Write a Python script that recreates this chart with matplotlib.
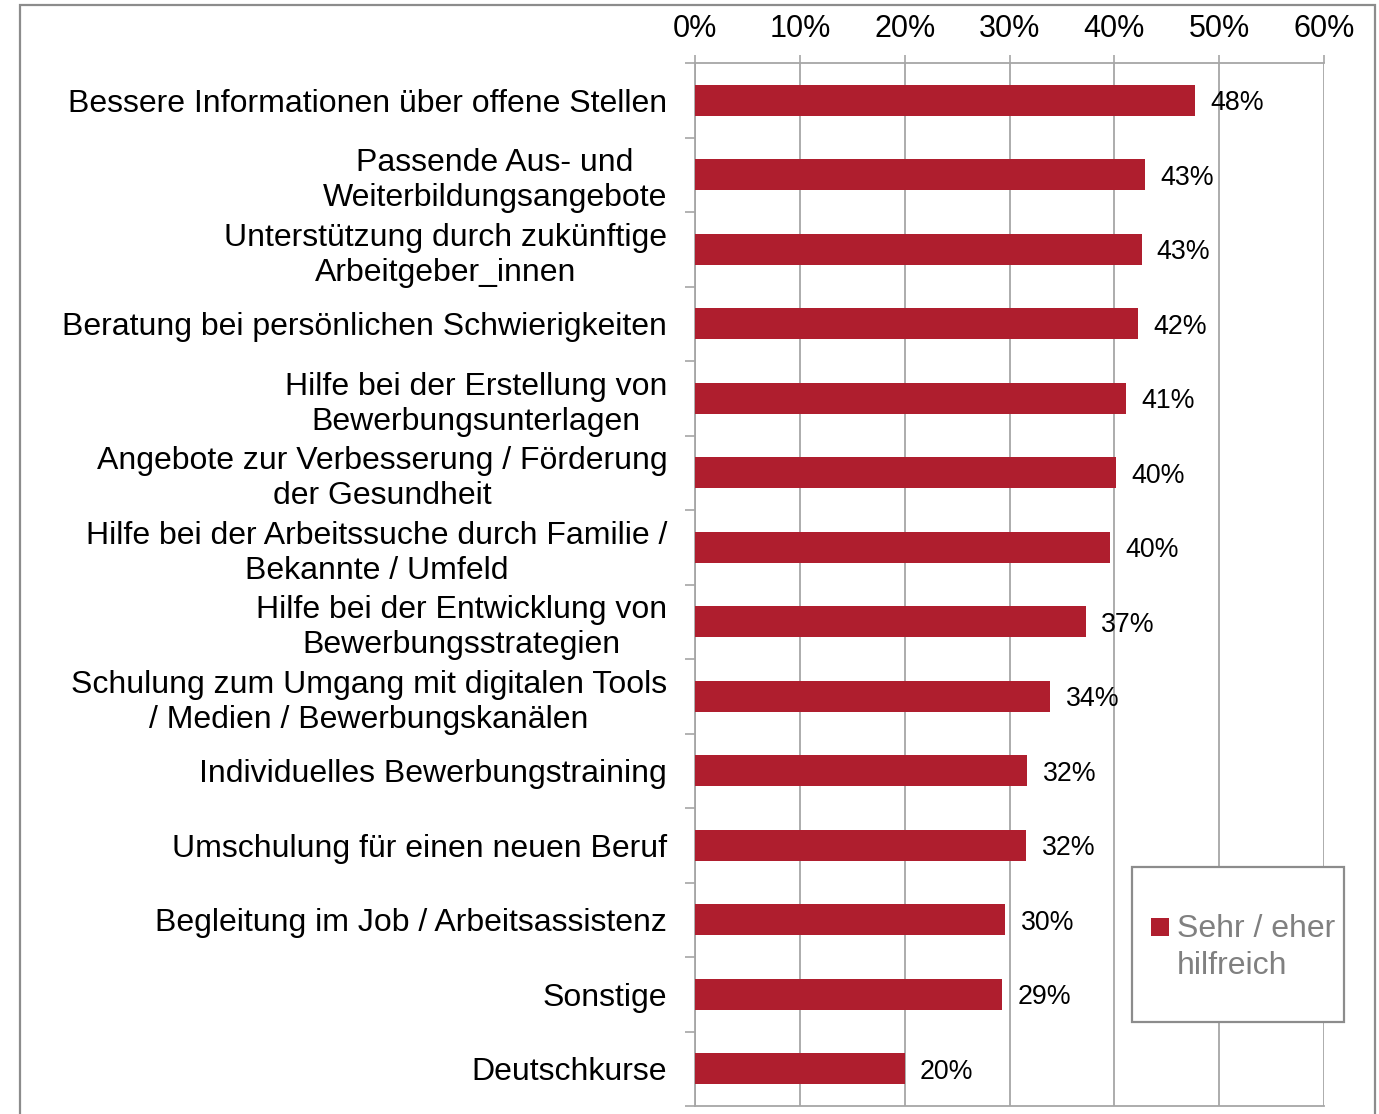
import matplotlib
matplotlib.use("Agg")
import matplotlib.pyplot as plt
from matplotlib.patches import Rectangle, Patch
from matplotlib.legend_handler import HandlerPatch
from matplotlib.ticker import FixedLocator, PercentFormatter

plt.rcParams['font.family'] = ['Liberation Sans', 'DejaVu Sans']

categories = [
    "Bessere Informationen über offene Stellen",
    "Passende Aus- und\nWeiterbildungsangebote",
    "Unterstützung durch zukünftige\nArbeitgeber_innen",
    "Beratung bei persönlichen Schwierigkeiten",
    "Hilfe bei der Erstellung von\nBewerbungsunterlagen",
    "Angebote zur Verbesserung / Förderung\nder Gesundheit",
    "Hilfe bei der Arbeitssuche durch Familie /\nBekannte / Umfeld",
    "Hilfe bei der Entwicklung von\nBewerbungsstrategien",
    "Schulung zum Umgang mit digitalen Tools\n/ Medien / Bewerbungskanälen",
    "Individuelles Bewerbungstraining",
    "Umschulung für einen neuen Beruf",
    "Begleitung im Job / Arbeitsassistenz",
    "Sonstige",
    "Deutschkurse",
]
values = [47.7, 42.9, 42.6, 42.3, 41.1, 40.2, 39.6, 37.3, 33.9, 31.7, 31.6, 29.6, 29.3, 20.0]
series_name = "Sehr / eher\nhilfreich"
x_ticks = [0, 10, 20, 30, 40, 50, 60]

BAR = "#AF1E2E"
GRID = "#A6A6A6"

W, H = 1379, 1114
fig = plt.figure(figsize=(W / 100, H / 100), dpi=100)

# outer frame
fig.patches.append(Rectangle((20 / W, -0.05), (1375 - 20) / W, 1.05 - 5 / H,
                             transform=fig.transFigure, fill=False,
                             edgecolor="#8C8C8C", lw=1.6, zorder=0))

ax = fig.add_axes([695 / W, 1 - 1106 / H, (1324 - 695) / W, (1106 - 63) / H])
y = list(range(len(categories)))
bars = ax.barh(y, values, height=0.41, color=BAR, zorder=3)
texts = ax.bar_label(bars, labels=[f"{v:.0f}%" for v in values], padding=11,
                     fontsize=19.3, color="black")
for t in texts:
    t.set_va('center_baseline')

ax.set_xlim(0, 60)
ax.set_ylim(len(categories) - 0.5, -0.5)
ax.xaxis.tick_top()
ax.set_xticks(x_ticks)
ax.xaxis.set_major_formatter(PercentFormatter(decimals=0))
ax.tick_params(axis='x', which='major', length=6, width=1.2, color=GRID,
               pad=8, labelsize=22)
ax.grid(axis='x', color=GRID, lw=1.3, zorder=0)

ax.set_yticks(y)
ax.set_yticklabels(categories)
ax.tick_params(axis='y', which='major', length=0, pad=20, labelsize=23)
for lbl in ax.get_yticklabels():
    lbl.set_multialignment('center')
    lbl.set_linespacing(1.22)
ax.yaxis.set_minor_locator(FixedLocator([i - 0.5 for i in range(len(categories) + 1)]))
ax.tick_params(axis='y', which='minor', length=7, width=1.2, color=GRID)

for s in ['top', 'bottom', 'left']:
    ax.spines[s].set_color(GRID)
    ax.spines[s].set_linewidth(1.3)
ax.spines['right'].set_visible(False)

# legend box
fig.patches.append(Rectangle((1132 / W, 1 - 1022 / H), (1344 - 1132) / W, (1022 - 867) / H,
                             transform=fig.transFigure, facecolor="white",
                             edgecolor="#8C8C8C", lw=1.6, zorder=5))


class TopHandler(HandlerPatch):
    def create_artists(self, legend, orig_handle, xdescent, ydescent, width, height,
                       fontsize, trans):
        size = 0.55 * fontsize
        shift = 0.64 * fontsize
        r = Rectangle((-xdescent, -ydescent + shift + (height - size) / 2), size, size,
                      facecolor=orig_handle.get_facecolor(), edgecolor='none', transform=trans)
        return [r]


handle = Patch(facecolor=BAR)
leg = fig.legend([handle], [series_name], loc='upper left',
                 bbox_to_anchor=(1151 / W, 1 - 914 / H), frameon=False,
                 fontsize=23, handlelength=0.55, handleheight=0.55, handletextpad=0.25,
                 borderpad=0, borderaxespad=0, labelcolor="#808080",
                 handler_map={Patch: TopHandler()})
for t in leg.get_texts():
    t.set_linespacing(1.29)
leg.set_zorder(6)

fig.savefig("out.png", dpi=100)
